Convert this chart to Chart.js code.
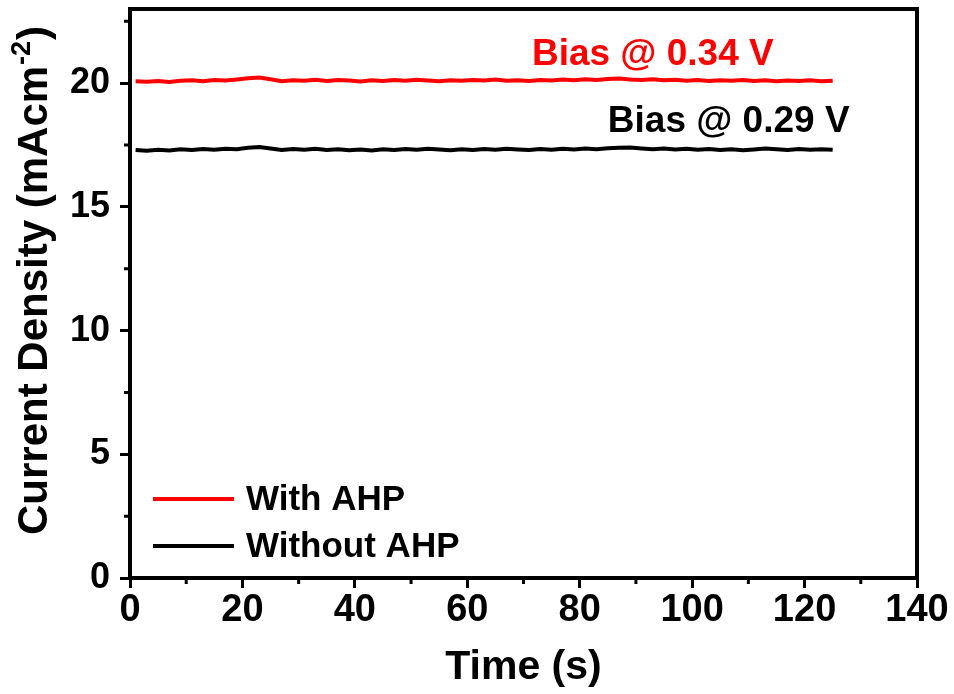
<!DOCTYPE html>
<html>
<head>
<meta charset="utf-8">
<script src="https://cdn.jsdelivr.net/npm/chart.js@4.4.1/dist/chart.umd.min.js"></script>
<style>
  html, body { margin: 0; padding: 0; background: #fff; }
  canvas { display: block; }
</style>
</head>
<body>
<canvas id="c" width="954" height="694"></canvas>
<script>
// ---- data ----
const timeS = [1,3,5,7,9,11,13,15,17,19,21,23,25,27,29,31,33,35,37,39,41,43,45,47,49,51,53,55,57,59,61,63,65,67,69,71,73,75,77,79,81,83,85,87,89,91,93,95,97,99,101,103,105,107,109,111,113,115,117,119,121,123,125];
const withAHP = [20.08,20.06,20.09,20.05,20.10,20.12,20.08,20.13,20.11,20.15,20.20,20.23,20.16,20.08,20.12,20.10,20.14,20.09,20.13,20.11,20.07,20.12,20.09,20.13,20.10,20.14,20.11,20.08,20.12,20.10,20.13,20.11,20.15,20.10,20.12,20.09,20.13,20.11,20.15,20.12,20.16,20.13,20.17,20.19,20.15,20.13,20.16,20.12,20.14,20.10,20.13,20.09,20.12,20.10,20.13,20.09,20.12,20.08,20.11,20.09,20.12,20.08,20.10];
const withoutAHP = [17.30,17.27,17.31,17.28,17.33,17.30,17.34,17.31,17.35,17.33,17.39,17.42,17.36,17.30,17.34,17.31,17.35,17.30,17.33,17.29,17.32,17.28,17.33,17.30,17.34,17.31,17.35,17.32,17.29,17.33,17.30,17.34,17.31,17.35,17.32,17.30,17.34,17.31,17.35,17.32,17.36,17.33,17.37,17.39,17.40,17.36,17.33,17.36,17.32,17.35,17.31,17.34,17.30,17.33,17.29,17.32,17.36,17.33,17.30,17.34,17.31,17.33,17.31];
const seriesLabels = ['With AHP', 'Without AHP'];
const xTicks = [0,20,40,60,80,100,120,140];
const xMinorTicks = [10,30,50,70,90,110,130];
const yTicks = [0,5,10,15,20];
const yMinorTicks = [2.5,7.5,12.5,17.5,22.5];
const annotationTexts = ['Bias @ 0.34 V', 'Bias @ 0.29 V'];
const yTitleParts = ['Current Density (mAcm', '-2', ')'];

// ---- styling / placement (not data) ----
const FONT = '"Liberation Sans", Arial, Helvetica, sans-serif';
const colors = ['#ff0000', '#000000'];
const annotationAnchors = [{x: 71.5, y: 20.74}, {x: 85.0, y: 18.04}];

const frameAndExtras = {
  id: 'frameAndExtras',
  afterDraw(chart) {
    const ctx = chart.ctx;
    const a = chart.chartArea;
    const xs = chart.scales.x, ys = chart.scales.y;
    ctx.save();
    // frame
    ctx.strokeStyle = '#000';
    ctx.lineWidth = 4;
    ctx.strokeRect(a.left, a.top, a.right - a.left, a.bottom - a.top);
    // minor ticks
    ctx.lineWidth = 3;
    ctx.beginPath();
    xMinorTicks.forEach(v => {
      const px = xs.getPixelForValue(v);
      ctx.moveTo(px, a.bottom); ctx.lineTo(px, a.bottom + 6);
    });
    yMinorTicks.forEach(v => {
      const py = ys.getPixelForValue(v);
      ctx.moveTo(a.left, py); ctx.lineTo(a.left - 6, py);
    });
    ctx.stroke();
    // annotations
    ctx.font = 'bold 37px ' + FONT;
    ctx.textAlign = 'left';
    ctx.textBaseline = 'alphabetic';
    annotationTexts.forEach((t, i) => {
      ctx.fillStyle = colors[i];
      ctx.fillText(t, xs.getPixelForValue(annotationAnchors[i].x), ys.getPixelForValue(annotationAnchors[i].y));
    });
    // legend
    const legY = [499, 546];
    ctx.font = 'bold 35px ' + FONT;
    ctx.textBaseline = 'middle';
    chart.data.datasets.forEach((ds, i) => {
      ctx.strokeStyle = ds.borderColor;
      ctx.lineWidth = 4;
      ctx.beginPath();
      ctx.moveTo(153, legY[i]); ctx.lineTo(234, legY[i]);
      ctx.stroke();
      ctx.fillStyle = '#000';
      ctx.fillText(ds.label, 246, legY[i] + 1);
    });
    // y axis title with superscript
    ctx.fillStyle = '#000';
    ctx.textBaseline = 'alphabetic';
    ctx.translate(47, 535);
    ctx.rotate(-Math.PI / 2);
    ctx.font = 'bold 42px ' + FONT;
    ctx.fillText(yTitleParts[0], 0, 0);
    let w = ctx.measureText(yTitleParts[0]).width;
    ctx.font = 'bold 27px ' + FONT;
    ctx.fillText(yTitleParts[1], w + 1, -17);
    w += ctx.measureText(yTitleParts[1]).width + 2;
    ctx.font = 'bold 42px ' + FONT;
    ctx.fillText(yTitleParts[2], w, 0);
    ctx.restore();
  }
};

const toPts = (ys) => timeS.map((t, i) => ({x: t, y: ys[i]}));

new Chart(document.getElementById('c'), {
  type: 'line',
  data: {
    datasets: [
      {label: seriesLabels[0], data: toPts(withAHP), borderColor: colors[0], borderWidth: 4, pointRadius: 0, tension: 0, fill: false},
      {label: seriesLabels[1], data: toPts(withoutAHP), borderColor: colors[1], borderWidth: 4, pointRadius: 0, tension: 0, fill: false}
    ]
  },
  options: {
    responsive: false,
    devicePixelRatio: 1,
    animation: false,
    layout: {padding: {top: 9, right: 37, left: 0, bottom: 0}},
    plugins: {legend: {display: false}, tooltip: {enabled: false}},
    scales: {
      x: {
        type: 'linear', position: 'bottom', min: 0, max: 140,
        afterFit(s) { s.height = 116; s.paddingLeft = 0; s.paddingRight = 0; },
        afterBuildTicks(s) { s.ticks = xTicks.map(v => ({value: v})); },
        grid: {display: true, drawOnChartArea: false, drawTicks: true, tickLength: 10, tickWidth: 3, tickColor: '#000'},
        border: {display: false},
        ticks: {color: '#000', padding: 0, maxRotation: 0, font: {family: FONT, size: 38, weight: 'bold'}},
        title: {display: true, text: 'Time (s)', color: '#000', padding: {top: 0, bottom: 2}, font: {family: FONT, size: 41, weight: 'bold'}}
      },
      y: {
        type: 'linear', min: 0, max: 23,
        afterFit(s) { s.width = 130; s.paddingTop = 0; s.paddingBottom = 0; },
        afterBuildTicks(s) { s.ticks = yTicks.map(v => ({value: v})); },
        grid: {display: true, drawOnChartArea: false, drawTicks: true, tickLength: 10, tickWidth: 3, tickColor: '#000'},
        border: {display: false},
        ticks: {color: '#000', padding: 10, font: {family: FONT, size: 36, weight: 'bold'}},
        title: {display: false}
      }
    }
  },
  plugins: [frameAndExtras]
});
</script>
</body>
</html>
